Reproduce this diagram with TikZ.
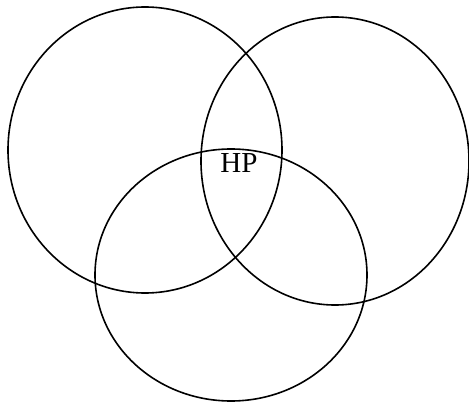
\documentclass[tikz,border=0pt]{standalone}
\usepackage{fontspec}
\setmainfont{Liberation Serif}
\usetikzlibrary{positioning}
\tikzset{every picture/.style={line width=1.6pt}}

\begin{document}
\begin{tikzpicture}[x=1pt, y=-1pt, font=\fontsize{29}{32}\selectfont]
    \useasboundingbox (0,0) rectangle (469,403);
    % three sets
    \draw (145,150) ellipse [x radius=137, y radius=143];
    \draw (335,161) ellipse [x radius=134, y radius=144];
    \draw (231,275) ellipse [x radius=136, y radius=126];

    \node (HP) at (239,163) {HP};
\end{tikzpicture}
\end{document}
